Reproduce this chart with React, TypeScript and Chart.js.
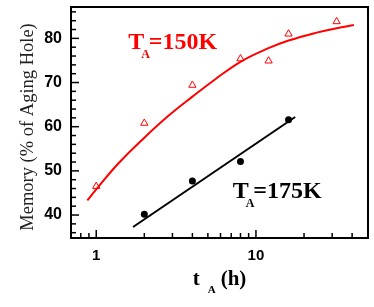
import { useEffect, useRef } from 'react';
import { Chart, registerables } from 'chart.js';

Chart.register(...registerables);

// Measured data: T_A = 150 K (open triangles)
const hours150 = [1, 2, 4, 8, 12, 16, 32];
const memory150 = [46.5, 60.8, 69.4, 75.4, 74.9, 81.0, 83.8];
// Measured data: T_A = 175 K (filled circles)
const hours175 = [2, 4, 8, 16];
const memory175 = [40.2, 47.7, 52.1, 61.6];
// Fit curve for 150 K
const fit150Hours = [0.88, 1, 1.37, 2, 2.82, 4, 5.54, 8, 11.67, 16, 24, 32, 41];
const fit150Memory = [43.3, 45.8, 51.6, 57.5, 62.4, 66.8, 70.7, 74.7, 77.6, 79.5, 81.3, 82.3, 83.0];
// Fit line for 175 K
const fit175Hours = [1.7, 17.6];
const fit175Memory = [37.3, 62.2];

// Axes
const xMajorTicks = [1, 10];
const xMinorTicks = [0.8, 0.9, 2, 3, 4, 5, 6, 7, 8, 9, 20, 30, 40];
const yMajorTicks = [40, 50, 60, 70, 80];
const yMinorTicks = [36, 38, 42, 44, 46, 48, 52, 54, 56, 58, 62, 64, 66, 68, 72, 74, 76, 78, 82, 84, 86];

// Annotation anchors (data coordinates)
const label150 = { t: 1.585, m: 77.7, text: '=150K', color: '#ff0000' };
const label175 = { t: 7.15, m: 43.9, text: '=175K', color: '#000000' };

const SERIF = '"Liberation Serif", "Times New Roman", serif';
const SANS = '"Liberation Sans", Arial, sans-serif';

const framePlugin = {
  id: 'frame',
  afterDatasetsDraw(chart: any) {
    const { ctx, chartArea: a, scales } = chart;
    const xs = scales.x;
    const ys = scales.y;
    ctx.save();
    ctx.strokeStyle = '#000';
    ctx.lineWidth = 1.5;
    const tickX = (v: number, len: number) => {
      const px = xs.getPixelForValue(v);
      ctx.beginPath();
      ctx.moveTo(px, a.bottom);
      ctx.lineTo(px, a.bottom - len);
      ctx.stroke();
    };
    const tickY = (v: number, len: number) => {
      const py = ys.getPixelForValue(v);
      ctx.beginPath();
      ctx.moveTo(a.left, py);
      ctx.lineTo(a.left + len, py);
      ctx.stroke();
    };
    xMajorTicks.forEach((v) => tickX(v, 8));
    xMinorTicks.forEach((v) => tickX(v, 5));
    yMajorTicks.forEach((v) => tickY(v, 8));
    yMinorTicks.forEach((v) => tickY(v, 5));

    ctx.lineWidth = 2;
    ctx.strokeRect(a.left, a.top, a.right - a.left, a.bottom - a.top);

    // Annotations T_A = ...
    const drawTA = (lab: any, size: number) => {
      const x0 = xs.getPixelForValue(lab.t);
      const y0 = ys.getPixelForValue(lab.m);
      ctx.fillStyle = lab.color;
      ctx.textBaseline = 'alphabetic';
      ctx.textAlign = 'left';
      ctx.font = `bold ${size}px ${SERIF}`;
      ctx.fillText('T', x0, y0);
      const wT = ctx.measureText('T').width;
      ctx.font = `bold ${Math.round(size * 0.52)}px ${SERIF}`;
      ctx.fillText('A', x0 + wT - 3, y0 + 9.5);
      const wA = ctx.measureText('A').width;
      ctx.font = `bold ${size}px ${SERIF}`;
      ctx.fillText(lab.text, x0 + wT - 3 + wA - 1, y0);
    };
    drawTA(label150, 24);
    drawTA(label175, 24);

    // X axis title: t_A (h)
    const cx = (a.left + a.right) / 2;
    const by = 285;
    ctx.fillStyle = '#000';
    ctx.font = `bold 21px ${SERIF}`;
    const wt = ctx.measureText('t').width;
    const wh = ctx.measureText('(h)').width;
    ctx.font = `bold 11px ${SERIF}`;
    const wa = ctx.measureText('A').width;
    const gap1 = 8;
    const gap2 = 5;
    const total = wt + gap1 + wa + gap2 + wh;
    let sx = cx - total / 2;
    ctx.font = `bold 21px ${SERIF}`;
    ctx.fillText('t', sx, by);
    sx += wt + gap1;
    ctx.font = `bold 11px ${SERIF}`;
    ctx.fillText('A', sx, by + 8);
    sx += wa + gap2;
    ctx.font = `bold 21px ${SERIF}`;
    ctx.fillText('(h)', sx, by);

    // Y axis title
    ctx.save();
    ctx.translate(28, (a.top + a.bottom) / 2 + 4.5);
    ctx.rotate(-Math.PI / 2);
    ctx.textAlign = 'center';
    ctx.textBaseline = 'middle';
    ctx.fillStyle = '#222';
    ctx.font = `18.5px ${SERIF}`;
    ctx.fillText('Memory (% of Aging Hole)', 0, 0);
    ctx.restore();

    ctx.restore();
  },
};

export default function App() {
  const ref = useRef<HTMLCanvasElement | null>(null);
  useEffect(() => {
    if (!ref.current) return;
    const chart = new Chart(ref.current, {
      type: 'scatter',
      data: {
        datasets: [
          {
            label: '175K data',
            data: hours175.map((t, i) => ({ x: t, y: memory175[i] })),
            pointStyle: 'circle',
            pointRadius: 3.5,
            backgroundColor: '#000',
            borderColor: '#000',
            borderWidth: 0,
            showLine: false,
          },
          {
            label: '150K data',
            data: hours150.map((t, i) => ({ x: t, y: memory150[i] })),
            pointStyle: 'triangle',
            pointRadius: 4.2,
            backgroundColor: 'rgba(0,0,0,0)',
            borderColor: '#ff0000',
            borderWidth: 1,
            showLine: false,
          },
          {
            label: '175K fit',
            data: fit175Hours.map((t, i) => ({ x: t, y: fit175Memory[i] })),
            showLine: true,
            pointRadius: 0,
            borderColor: '#000',
            borderWidth: 2,
          },
          {
            label: '150K fit',
            data: fit150Hours.map((t, i) => ({ x: t, y: fit150Memory[i] })),
            showLine: true,
            pointRadius: 0,
            borderColor: '#ff0000',
            borderWidth: 2,
            tension: 0.4,
          },
        ],
      },
      options: {
        responsive: false,
        animation: false,
        events: [],
        layout: { padding: { top: 7, right: 6, left: 0, bottom: 0 } },
        plugins: { legend: { display: false }, tooltip: { enabled: false }, title: { display: false } },
        scales: {
          x: {
            type: 'logarithmic',
            min: 0.695,
            max: 50.3,
            grid: { display: false, drawTicks: false, tickLength: 0 },
            border: { display: false },
            afterBuildTicks: (s: any) => {
              s.ticks = xMajorTicks.map((v) => ({ value: v }));
            },
            afterFit: (s: any) => {
              s.height = 69;
              s.paddingLeft = 0;
              s.paddingRight = 0;
            },
            ticks: {
              color: '#000',
              padding: 9,
              autoSkip: false,
              maxRotation: 0,
              font: { family: SANS, size: 15, weight: 'bold' },
              callback: (v: any) => String(v),
            },
          },
          y: {
            type: 'linear',
            min: 34.8,
            max: 87.1,
            grid: { display: false, drawTicks: false, tickLength: 0 },
            border: { display: false },
            afterBuildTicks: (s: any) => {
              s.ticks = yMajorTicks.map((v) => ({ value: v }));
            },
            afterFit: (s: any) => {
              s.width = 71;
              s.paddingTop = 0;
              s.paddingBottom = 0;
            },
            ticks: {
              color: '#000',
              padding: 9,
              autoSkip: false,
              font: { family: SANS, size: 16, weight: 'bold' },
              callback: (v: any) => String(v),
            },
          },
        },
      } as any,
      plugins: [framePlugin],
    });
    return () => chart.destroy();
  }, []);
  return (
    <div style={{ position: 'fixed', left: 0, top: 0, width: 374, height: 307, background: '#fff' }}>
      <canvas ref={ref} width={374} height={307} style={{ display: 'block' }} />
    </div>
  );
}
